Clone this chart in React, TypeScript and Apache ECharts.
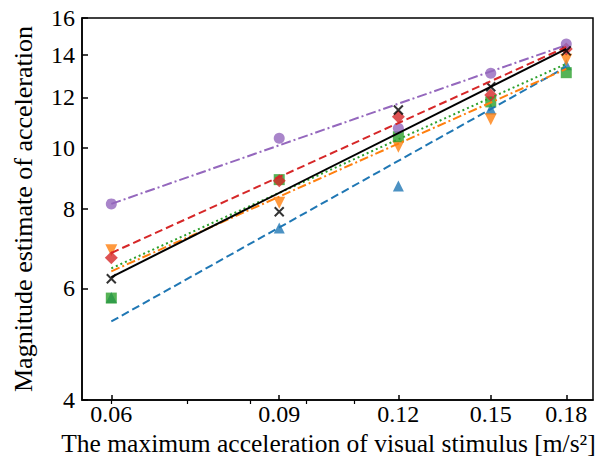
import React, { useEffect, useRef } from "react";
import * as echarts from "echarts";

// ---- data ----
const xValues = [0.06, 0.09, 0.12, 0.15, 0.18];
const xTickValues = [0.06, 0.09, 0.12, 0.15, 0.18];
const xMinorTickValues = [0.06, 0.072, 0.084, 0.096, 0.108];
const yTickValues = [4, 6, 8, 10, 12, 14, 16];
const xRange = [0.0559, 0.192];
const yRange = [4, 16];

const blueValues = [5.8, 7.47, 8.7, 11.5, 13.5];
const orangeValues = [6.89, 8.18, 10.03, 11.08, 13.75];
const greenValues = [5.79, 8.9, 10.4, 11.8, 13.12];
const redValues = [6.7, 8.86, 11.18, 12.1, 14.3];
const purpleValues = [8.15, 10.34, 10.72, 13.09, 14.56];
const blackValues = [6.21, 7.92, 11.46, 12.47, 14.2];

// fitted lines: values at the two ends
const fitX = [0.06, 0.18];
const blueFit = [5.32, 13.4];
const orangeFit = [6.38, 13.3];
const greenFit = [6.45, 13.55];
const redFit = [6.82, 14.4];
const purpleFit = [8.15, 14.5];
const blackFit = [6.25, 14.3];

const xTitle = "The maximum acceleration of visual stimulus [m/s\u00b2]";
const yTitle = "Magnitude estimate of acceleration";

const FONT = "Times New Roman, Liberation Serif, Tinos, DejaVu Serif, serif";
const L = Math.log;

type Group = {
  name: string;
  values: number[];
  fit: number[];
  color: string;
  symbol: string;
  size: number | number[];
  rotate?: number;
  dash: number[] | "solid";
  stroke?: boolean;
};

const groups: Group[] = [
  { name: "blue", values: blueValues, fit: blueFit, color: "#1f77b4", symbol: "triangle", size: 11, dash: [8, 4] },
  { name: "orange", values: orangeValues, fit: orangeFit, color: "#ff7f0e", symbol: "triangle", size: 12, rotate: 180, dash: [9, 3, 2, 3] },
  { name: "green", values: greenValues, fit: greenFit, color: "#2ca02c", symbol: "rect", size: 11, dash: [2, 3] },
  { name: "red", values: redValues, fit: redFit, color: "#d62728", symbol: "diamond", size: 13, dash: [8, 4] },
  { name: "purple", values: purpleValues, fit: purpleFit, color: "#9467bd", symbol: "circle", size: 11, dash: [10, 3, 2, 3] },
  { name: "black", values: blackValues, fit: blackFit, color: "#000000", symbol: "path://M0,0L10,10M10,0L0,10", size: 9, dash: "solid", stroke: true },
];

export default function App() {
  const ref = useRef<HTMLDivElement>(null);

  useEffect(() => {
    if (!ref.current) return;
    const chart = echarts.init(ref.current, undefined, { renderer: "svg" });

    const series: any[] = [];
    groups.forEach((g) => {
      series.push({
        type: "scatter",
        name: g.name + "-pts",
        xAxisIndex: 0,
        yAxisIndex: 0,
        symbol: g.symbol,
        symbolSize: g.size,
        symbolRotate: g.rotate || 0,
        itemStyle: g.stroke
          ? { color: "rgba(0,0,0,0)", borderColor: g.color, borderWidth: 2 }
          : { color: g.color },
        data: xValues.map((x, i) => [L(x), L(g.values[i])]),
      });
      series.push({
        type: "line",
        name: g.name + "-fit",
        xAxisIndex: 0,
        yAxisIndex: 0,
        showSymbol: false,
        symbol: "none",
        lineStyle: { color: g.color, width: 2, type: g.dash },
        data: fitX.map((x, i) => [L(x), L(g.fit[i])]),
      });
    });

    chart.setOption({
      animation: false,
      backgroundColor: "#ffffff",
      textStyle: { fontFamily: FONT },
      grid: {
        left: 82,
        top: 18,
        width: 511,
        height: 382,
        show: true,
        borderColor: "#000",
        borderWidth: 1.5,
        backgroundColor: "rgba(0,0,0,0)",
        containLabel: false,
        outerBoundsMode: "none",
      },
      xAxis: [
        {
          type: "value",
          min: L(xRange[0]),
          max: L(xRange[1]),
          position: "bottom",
          axisLine: { show: true, lineStyle: { color: "#000", width: 1.5 } },
          axisTick: {
            show: true,
            inside: true,
            length: 5,
            lineStyle: { color: "#000", width: 1.5 },
            customValues: xTickValues.map(L),
          },
          axisLabel: {
            show: true,
            customValues: xTickValues.map(L),
            formatter: (v: number) => Math.exp(v).toFixed(2),
            fontSize: 24,
            fontFamily: FONT,
            color: "#000",
            margin: 2,
          },
          splitLine: { show: false },
          name: xTitle,
          nameLocation: "middle",
          nameGap: 26,
          nameTextStyle: {
            fontSize: 25.5,
            fontFamily: FONT,
            color: "#000",
            padding: [0, 18, 0, 0],
          },
        },
        {
          type: "value",
          min: L(xRange[0]),
          max: L(xRange[1]),
          position: "bottom",
          axisLine: { show: false },
          axisTick: {
            show: true,
            inside: false,
            length: 4,
            lineStyle: { color: "#000", width: 1.2 },
            customValues: xMinorTickValues.map(L),
          },
          axisLabel: { show: false },
          splitLine: { show: false },
        },
      ],
      yAxis: [
        {
          type: "value",
          min: L(yRange[0]),
          max: L(yRange[1]),
          axisLine: { show: true, lineStyle: { color: "#000", width: 1.5 } },
          axisTick: {
            show: true,
            inside: true,
            length: 6,
            lineStyle: { color: "#000", width: 1.5 },
            customValues: yTickValues.map(L),
          },
          axisLabel: {
            show: true,
            customValues: yTickValues.map(L),
            formatter: (v: number) => String(Math.round(Math.exp(v))),
            fontSize: 24,
            fontFamily: FONT,
            color: "#000",
            margin: 7,
            padding: [6, 0, 0, 0],
          },
          splitLine: { show: false },
          name: yTitle,
          nameLocation: "middle",
          nameGap: 46,
          nameTextStyle: { fontSize: 26, fontFamily: FONT, color: "#000" },
        },
      ],
      series,
    });

    return () => {
      chart.dispose();
    };
  }, []);

  return (
    <div
      ref={ref}
      style={{ position: "absolute", left: 0, top: 0, width: 600, height: 460 }}
    />
  );
}
